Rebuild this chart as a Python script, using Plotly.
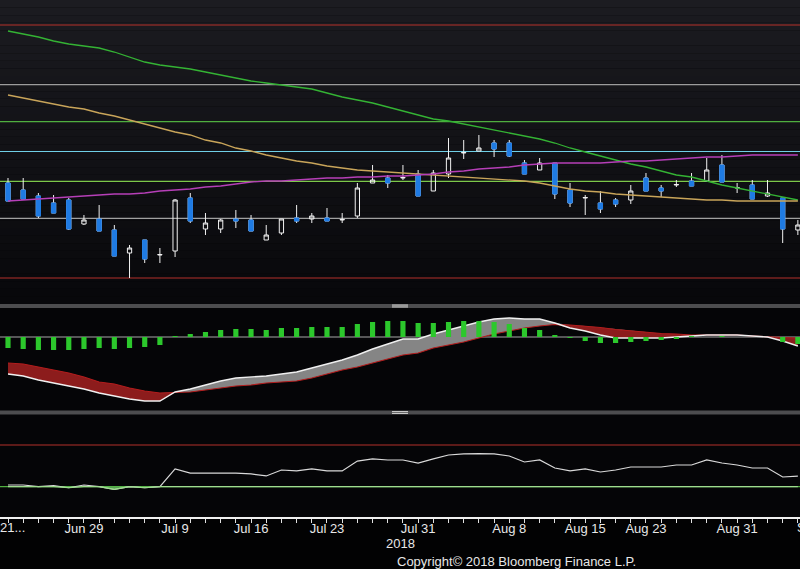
import plotly.graph_objects as go

# ---------------- data ----------------
dates = ["2018-06-21", "2018-06-22", "2018-06-25", "2018-06-26", "2018-06-28", "2018-06-29",
         "2018-07-02", "2018-07-03", "2018-07-04", "2018-07-05", "2018-07-06",
         "2018-07-09", "2018-07-10", "2018-07-11", "2018-07-12", "2018-07-13",
         "2018-07-16", "2018-07-17", "2018-07-18", "2018-07-19", "2018-07-20",
         "2018-07-23", "2018-07-24", "2018-07-25", "2018-07-26", "2018-07-27",
         "2018-07-30", "2018-07-31", "2018-08-01", "2018-08-02", "2018-08-03",
         "2018-08-06", "2018-08-07", "2018-08-08", "2018-08-09", "2018-08-10",
         "2018-08-13", "2018-08-14", "2018-08-15", "2018-08-16", "2018-08-20",
         "2018-08-21", "2018-08-23", "2018-08-24", "2018-08-27", "2018-08-28",
         "2018-08-29", "2018-08-30", "2018-08-31", "2018-09-03", "2018-09-04",
         "2018-09-05", "2018-09-06"]

open_ = [2234, 2220, 2208, 2194, 2200, 2152, 2162, 2140, 2094, 2120, 2090, 2098, 2204, 2142, 2142,
         2162, 2160, 2120, 2134, 2164, 2162, 2164, 2160, 2168, 2234, 2244, 2244, 2252, 2218, 2252,
         2294, 2298, 2314, 2314, 2274, 2260, 2274, 2220, 2204, 2194, 2200, 2200, 2244, 2224, 2230,
         2238, 2238, 2270, 2224, 2230, 2208, 2204, 2140]
high = [2244, 2244, 2214, 2210, 2204, 2170, 2190, 2150, 2110, 2120, 2104, 2202, 2214, 2174, 2162,
        2180, 2170, 2150, 2162, 2190, 2174, 2184, 2174, 2234, 2270, 2250, 2270, 2260, 2260, 2324,
        2320, 2330, 2320, 2320, 2280, 2284, 2274, 2234, 2210, 2218, 2204, 2230, 2254, 2230, 2240,
        2254, 2284, 2290, 2234, 2240, 2240, 2204, 2160]
low = [2198, 2202, 2164, 2174, 2140, 2150, 2138, 2088, 2044, 2074, 2074, 2086, 2154, 2130, 2134,
       2144, 2138, 2120, 2130, 2154, 2154, 2158, 2154, 2164, 2234, 2224, 2240, 2208, 2218, 2244,
       2282, 2298, 2286, 2286, 2252, 2260, 2202, 2186, 2170, 2174, 2186, 2192, 2218, 2206, 2226,
       2228, 2236, 2236, 2214, 2202, 2206, 2114, 2130]
close = [2198, 2202, 2168, 2174, 2142, 2160, 2138, 2088, 2104, 2082, 2091, 2200, 2158, 2154, 2160,
         2158, 2138, 2130, 2162, 2158, 2168, 2158, 2161, 2224, 2240, 2234, 2245, 2208, 2254, 2284,
         2295, 2304, 2302, 2288, 2252, 2274, 2212, 2194, 2205, 2182, 2192, 2218, 2218, 2218, 2231,
         2228, 2260, 2236, 2225, 2202, 2214, 2142, 2150]

ma_long = [2538, 2532, 2526, 2518, 2512, 2508, 2504, 2496, 2486, 2476, 2470, 2466, 2462, 2456, 2450,
           2444, 2438, 2434, 2430, 2426, 2422, 2414, 2406, 2400, 2394, 2386, 2378, 2370, 2362, 2358,
           2352, 2346, 2340, 2334, 2328, 2322, 2314, 2304, 2296, 2288, 2280, 2272, 2266, 2258, 2250,
           2246, 2238, 2230, 2224, 2218, 2212, 2206, 2200]
ma_mid = [2410, 2404, 2398, 2392, 2386, 2382, 2374, 2368, 2360, 2352, 2344, 2336, 2330, 2320, 2314,
          2304, 2298, 2290, 2284, 2278, 2274, 2268, 2264, 2260, 2258, 2256, 2254, 2252, 2250, 2248,
          2246, 2244, 2242, 2240, 2238, 2234, 2228, 2222, 2218, 2216, 2212, 2210, 2208, 2206, 2204,
          2202, 2200, 2200, 2198, 2198, 2198, 2198, 2198]
ma_short = [2198, 2200, 2202, 2204, 2206, 2208, 2210, 2212, 2212, 2214, 2218, 2220, 2222, 2226, 2228,
            2232, 2236, 2238, 2238, 2240, 2242, 2244, 2244, 2246, 2246, 2248, 2248, 2250, 2252, 2256,
            2258, 2262, 2264, 2266, 2270, 2272, 2274, 2274, 2274, 2274, 2276, 2278, 2278, 2280, 2282,
            2284, 2286, 2286, 2288, 2290, 2290, 2290, 2290]

fib_high = 2550
fib_low = 2044
fib_ratios = [0.0, 0.236, 0.382, 0.5, 0.618, 0.764, 1.0]
fib_colors = ["#b3302a", "#9c9c9c", "#4fae3f", "#6fcfe6", "#7cc84a", "#a0a0a0", "#b3302a"]

macd = [-37, -39, -43, -46, -49, -52, -56, -59, -62, -64, -64, -55, -52, -48, -44, -41, -40, -39,
        -37, -35, -31, -27, -23, -18, -12, -7, -2, -2, 3, 7, 11, 15, 18, 19, 18, 18, 14, 9, 6, 2,
        -1, -1, -1, -1, 0, 1, 2, 2, 2, 1, 0, -4, -9]
signal = [-26, -27, -30, -33, -36, -40, -45, -47, -51, -54, -56, -55.5, -55, -53, -51, -49, -48, -46,
          -45, -44, -41, -37, -33, -30, -26, -22, -18, -16, -11, -8, -5, -1, 3, 6, 9, 11, 12.5, 12,
          11, 9.5, 7.5, 6, 4.5, 3.5, 3, 2, 2, 2, 2, 1, 0, -0.5, -1]
hist = [-11, -12, -13, -13, -13, -12, -11, -12, -11, -10, -8, 0.5, 3, 5, 7, 8, 8, 7, 9, 9, 10, 10,
        10, 13, 15, 16, 16, 14, 14, 15, 16, 16, 15, 13, 9, 7, 2, -1, -4, -6, -6, -5, -4, -3, -1.5,
        0.5, 0, 1, 0, 0, 0, -5, -7]

rsi = [31.6, 31.6, 30.0, 31.0, 29.0, 31.6, 30.0, 27.5, 30.0, 29.0, 30.0, 47.0, 43.1, 43.1, 43.1,
       43.1, 42.2, 40.3, 46.0, 45.1, 47.0, 45.1, 45.1, 54.6, 56.6, 55.6, 55.6, 52.7, 56.6, 60.4,
       61.4, 61.8, 61.4, 59.4, 53.7, 55.6, 47.9, 45.1, 47.0, 44.1, 46.0, 48.9, 48.9, 48.9, 50.8,
       50.8, 55.6, 52.7, 50.8, 47.9, 47.9, 39.3, 40.2]
rsi_upper = 70
rsi_lower = 30

tick_labels = {"2018-06-29": "Jun 29", "2018-07-09": "Jul 9",
               "2018-07-16": "Jul 16", "2018-07-23": "Jul 23", "2018-07-31": "Jul 31",
               "2018-08-08": "Aug 8", "2018-08-15": "Aug 15", "2018-08-23": "Aug 23",
               "2018-08-31": "Aug 31"}
first_label = "21..."
next_label = "Sep 7"

# ---------------- figure ----------------
BLUE = "#1f7be3"
fig = go.Figure()

# candles: full OHLC with white wicks
fig.add_trace(go.Candlestick(
    x=dates, open=open_, high=high, low=low, close=close, yaxis="y",
    increasing=dict(line=dict(color="#f2f2f2", width=1), fillcolor="rgba(0,0,0,0)"),
    decreasing=dict(line=dict(color="#f2f2f2", width=1), fillcolor=BLUE),
    whiskerwidth=0, hoverinfo="skip", showlegend=False))
# blue bodies over the falling candles
dn = [i for i in range(len(dates)) if close[i] < open_[i]]
fig.add_trace(go.Candlestick(
    x=[dates[i] for i in dn], open=[open_[i] for i in dn], high=[open_[i] for i in dn],
    low=[close[i] for i in dn], close=[close[i] for i in dn], yaxis="y",
    increasing=dict(line=dict(color=BLUE, width=1), fillcolor=BLUE),
    decreasing=dict(line=dict(color=BLUE, width=1), fillcolor=BLUE),
    whiskerwidth=0, hoverinfo="skip", showlegend=False))

for vals, col in [(ma_long, "#34b334"), (ma_mid, "#c9a55a"), (ma_short, "#b63fb8")]:
    fig.add_trace(go.Scatter(x=dates, y=vals, mode="lines", yaxis="y",
                             line=dict(color=col, width=1.3), hoverinfo="skip", showlegend=False))

# MACD panel
mx = [max(a, b) for a, b in zip(macd, signal)]
mn = [min(a, b) for a, b in zip(macd, signal)]
fig.add_trace(go.Scatter(x=dates, y=signal, mode="lines", line=dict(width=0), yaxis="y2",
                         hoverinfo="skip", showlegend=False))
fig.add_trace(go.Scatter(x=dates, y=mx, mode="lines", line=dict(width=0), fill="tonexty",
                         fillcolor="#858585", yaxis="y2", hoverinfo="skip", showlegend=False))
fig.add_trace(go.Scatter(x=dates, y=signal, mode="lines", line=dict(width=0), yaxis="y2",
                         hoverinfo="skip", showlegend=False))
fig.add_trace(go.Scatter(x=dates, y=mn, mode="lines", line=dict(width=0), fill="tonexty",
                         fillcolor="#8c1c1c", yaxis="y2", hoverinfo="skip", showlegend=False))
fig.add_trace(go.Scatter(x=dates, y=signal, mode="lines", line=dict(color="#b31d1d", width=1.2),
                         yaxis="y2", hoverinfo="skip", showlegend=False))
fig.add_trace(go.Scatter(x=dates, y=macd, mode="lines", line=dict(color="#f0f0f0", width=1.4),
                         yaxis="y2", hoverinfo="skip", showlegend=False))
fig.add_trace(go.Bar(x=dates, y=hist, yaxis="y3", width=0.34, marker=dict(color="#2cc82c", line=dict(width=0)),
                     hoverinfo="skip", showlegend=False))

# RSI panel
fig.add_trace(go.Scatter(x=dates, y=rsi, mode="lines", line=dict(color="#d9d9d9", width=1.2),
                         yaxis="y4", hoverinfo="skip", showlegend=False))
fig.add_trace(go.Scatter(x=dates, y=[rsi_lower] * len(dates), mode="lines", line=dict(width=0),
                         yaxis="y4", hoverinfo="skip", showlegend=False))
fig.add_trace(go.Scatter(x=dates, y=[min(v, rsi_lower) for v in rsi], mode="lines",
                         line=dict(color="#9fdc8f", width=1.2), fill="tonexty",
                         fillcolor="rgba(110,200,100,0.75)", yaxis="y4", hoverinfo="skip",
                         showlegend=False))

# ---------------- layout ----------------
H = 517.0  # plot-area height in px


def py(px):
    return (H - px) / H


shapes = []
# gradient background in price panel
nb = 40
for k in range(nb):
    t = k / (nb - 1)
    r = int(8 + (28 - 8) * t)
    g = int(8 + (28 - 8) * t)
    b = int(11 + (33 - 11) * t)
    shapes.append(dict(type="rect", xref="paper", yref="y domain", x0=0, x1=1,
                       y0=k / nb, y1=(k + 1) / nb, fillcolor=f"rgb({r},{g},{b})",
                       line=dict(width=0), layer="below"))
for ratio, col in zip(fib_ratios, fib_colors):
    lvl = fib_high - ratio * (fib_high - fib_low)
    shapes.append(dict(type="line", xref="paper", yref="y", x0=0, x1=1, y0=lvl, y1=lvl,
                       line=dict(color=col, width=1.2), layer="below"))
shapes.append(dict(type="line", xref="paper", yref="y2", x0=0, x1=1, y0=0, y1=0,
                   line=dict(color="#a8a8a8", width=1), layer="below"))
shapes.append(dict(type="line", xref="paper", yref="y4", x0=0, x1=1, y0=rsi_upper, y1=rsi_upper,
                   line=dict(color="#b3302a", width=1.2), layer="below"))
shapes.append(dict(type="line", xref="paper", yref="y4", x0=0, x1=1, y0=rsi_lower, y1=rsi_lower,
                   line=dict(color="#4fae3f", width=1.2), layer="below"))
# panel dividers with handles
for top in (304, 410.5):
    shapes.append(dict(type="rect", xref="paper", yref="paper", x0=0, x1=1,
                       y0=py(top + 4), y1=py(top), fillcolor="#4d4d4f", line=dict(width=0)))
    shapes.append(dict(type="rect", xref="paper", yref="paper", x0=392 / 800, x1=408 / 800,
                       y0=py(top + 3.5), y1=py(top + 0.5), fillcolor="#c8c8c8", line=dict(width=0)))
    shapes.append(dict(type="line", xref="paper", yref="paper", x0=392 / 800, x1=408 / 800,
                       y0=py(top + 2), y1=py(top + 2), line=dict(color="#6a6a6a", width=1)))

tickvals = dates
ticktext = [tick_labels.get(d, "") for d in dates]

fig.update_layout(
    width=800, height=569,
    margin=dict(l=0, r=0, t=0, b=52, pad=0, autoexpand=False),
    paper_bgcolor="#020203", plot_bgcolor="#050507",
    showlegend=False, boxgap=0.6, bargap=0.6,
    font=dict(family="Liberation Sans, Arial, sans-serif", color="#e8e8e8", size=13),
    xaxis=dict(type="category", range=[-0.527, 52.14], anchor="y4", automargin=False,
               tickmode="array", tickvals=tickvals, ticktext=ticktext, tickangle=0,
               ticks="outside", ticklen=4, tickcolor="#e0e0e0", tickwidth=1,
               ticklabelstandoff=-5,
               showline=True, linecolor="#f0f0f0", linewidth=1.5,
               showgrid=False, zeroline=False, rangeslider=dict(visible=False),
               tickfont=dict(size=13, color="#e8e8e8")),
    yaxis=dict(domain=[py(304), 1], range=[1992, 2600], visible=False, automargin=False),
    yaxis2=dict(domain=[py(411), py(308)], range=[-74, 29], visible=False, automargin=False),
    yaxis3=dict(overlaying="y2", range=[-74, 29], visible=False, automargin=False),
    yaxis4=dict(domain=[0, py(414)], range=[0.94, 99.7], visible=False, automargin=False),
    shapes=shapes,
    annotations=[
        dict(text=first_label, xref="paper", yref="paper", x=0, xanchor="left", xshift=-2,
             y=py(527), yanchor="middle", showarrow=False, font=dict(size=13, color="#e8e8e8")),
        dict(text=next_label, xref="paper", yref="paper", x=1, xanchor="left", xshift=-5,
             y=py(527), yanchor="middle", showarrow=False, font=dict(size=13, color="#e8e8e8")),
        dict(text="2018", xref="paper", yref="paper", x=0.5, y=py(543), xanchor="center",
             yanchor="middle", showarrow=False, font=dict(size=13, color="#e8e8e8")),
        dict(text="Copyright\u00a9 2018 Bloomberg Finance L.P.", xref="paper", yref="paper",
             x=516 / 800, y=py(561), xanchor="center", yanchor="middle", showarrow=False,
             font=dict(size=13, color="#e8e8e8")),
    ],
)

fig.write_html("out.html", config={"displayModeBar": False},
               post_script="document.body.style.margin='0';document.body.style.background='#020203';")
